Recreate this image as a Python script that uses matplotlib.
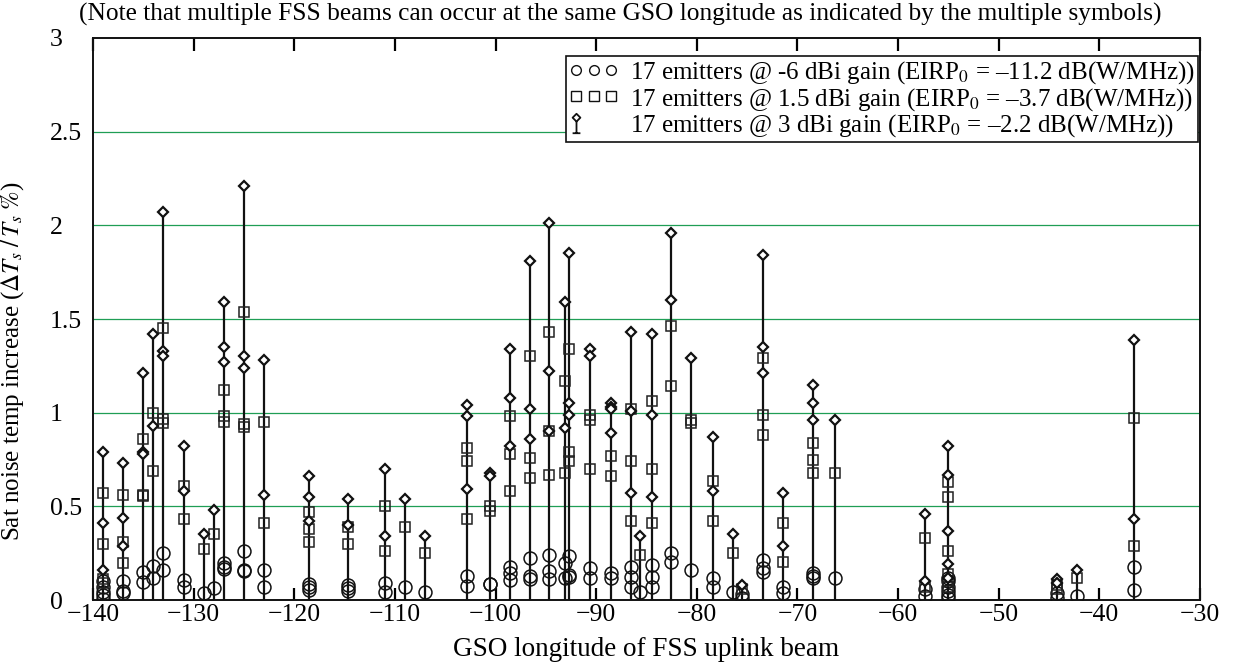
import matplotlib
matplotlib.use('Agg')
import matplotlib.pyplot as plt
from matplotlib.lines import Line2D
from matplotlib.path import Path
from matplotlib.legend_handler import HandlerLine2D
from matplotlib.ticker import FuncFormatter

plt.rcParams['font.family'] = ['Liberation Serif', 'DejaVu Serif']
plt.rcParams['mathtext.fontset'] = 'stix'

# GSO longitudes of the stems (deg)
lons = [-139, -137, -135, -134, -133, -131, -129, -128, -127, -125, -123,
        -118.5, -114.7, -111, -109, -107, -102.8, -100.6, -98.6, -96.6,
        -94.7, -93.1, -92.7, -90.6, -88.5, -86.5, -85.6, -84.5, -82.6,
        -80.6, -78.4, -76.4, -75.5, -73.4, -71.4, -68.5, -66.3, -57.3,
        -55, -44.2, -42.2, -36.6]

# 3 dBi gain (diamonds)
dia_vals = [[0.79, 0.41, 0.16], [0.73, 0.44, 0.29], [1.21, 0.79, 0.78],
            [1.42, 0.93], [2.07, 1.33, 1.30], [0.82, 0.58], [0.35], [0.48],
            [1.59, 1.35, 1.27], [2.21, 1.30, 1.24], [1.28, 0.56],
            [0.66, 0.55, 0.42], [0.54, 0.40], [0.70, 0.34], [0.54], [0.34],
            [1.04, 0.98, 0.59], [0.68, 0.66], [1.34, 1.08, 0.82],
            [1.81, 1.02, 0.86], [2.01, 1.22, 0.90], [1.59, 0.92],
            [1.85, 1.05, 0.99], [1.34, 1.30], [1.05, 1.03, 1.02, 0.89],
            [1.43, 1.01, 0.57], [0.34], [1.42, 0.99, 0.55], [1.96, 1.60],
            [1.29], [0.87, 0.58], [0.35], [0.08], [1.84, 1.35, 1.21],
            [0.57, 0.29], [1.15, 1.05, 0.96], [0.96], [0.46, 0.10],
            [0.82, 0.67, 0.37, 0.19, 0.12], [0.11, 0.09], [0.16], [1.39, 0.43]]

# 1.5 dBi gain (squares)
sq_vals = [[0.57, 0.30, 0.11, 0.09], [0.56, 0.31, 0.20], [0.86, 0.56, 0.555],
           [1.00, 0.69], [1.45, 0.965, 0.945], [0.61, 0.43], [0.27], [0.35],
           [1.12, 0.98, 0.95], [1.54, 0.94, 0.925], [0.95, 0.41],
           [0.47, 0.38, 0.31], [0.39, 0.30], [0.50, 0.26], [0.39], [0.25],
           [0.81, 0.74, 0.43], [0.50, 0.475], [0.98, 0.78, 0.58],
           [1.30, 0.76, 0.65], [1.43, 0.90, 0.67], [1.17, 0.68],
           [1.34, 0.79, 0.74], [0.99, 0.96, 0.70], [0.77, 0.66],
           [1.02, 0.74, 0.42], [0.24], [1.06, 0.70, 0.41], [1.46, 1.14],
           [0.96, 0.945], [0.635, 0.42], [0.25], [0.06], [1.29, 0.99, 0.88],
           [0.41, 0.205], [0.84, 0.75, 0.68], [0.68], [0.33, 0.07],
           [0.63, 0.55, 0.26, 0.14, 0.10, 0.07], [0.08, 0.06], [0.12],
           [0.97, 0.29]]

# -6 dBi gain (circles)
circ_vals = [[0.10, 0.07, 0.045, 0.025, 0.005], [0.10, 0.05, 0.035],
             [0.15, 0.095], [0.18, 0.12], [0.25, 0.16], [0.105, 0.07],
             [0.036], [0.062], [0.20, 0.175, 0.165], [0.26, 0.16, 0.155],
             [0.16, 0.07], [0.084, 0.068, 0.053], [0.08, 0.062, 0.05],
             [0.093, 0.044], [0.071], [0.041], [0.128, 0.076], [0.088, 0.085],
             [0.175, 0.142, 0.107], [0.226, 0.128, 0.11], [0.24, 0.157, 0.11],
             [0.20, 0.116], [0.235, 0.133, 0.124], [0.169, 0.116],
             [0.142, 0.116], [0.178, 0.124, 0.071], [0.044],
             [0.187, 0.121, 0.071], [0.253, 0.205], [0.16], [0.116, 0.071],
             [0.044], [0.03, 0.01], [0.214, 0.173, 0.151], [0.071, 0.036],
             [0.142, 0.128, 0.116], [0.119], [0.06, 0.02],
             [0.12, 0.10, 0.07, 0.05, 0.025, 0.01], [0.035, 0.01], [0.021],
             [0.178, 0.053]]

labels = ['17 emitters @ -6 dBi gain (EIRP$_0$ = \u201311.2 dB(W/MHz))',
          '17 emitters @ 1.5 dBi gain (EIRP$_0$ = \u20133.7 dB(W/MHz))',
          '17 emitters @ 3 dBi gain (EIRP$_0$ = \u20132.2 dB(W/MHz))']


def flatten(vals):
    xs, ys = [], []
    for lon, vs in zip(lons, vals):
        for v in vs:
            xs.append(lon)
            ys.append(v)
    return xs, ys


class FirstPointOnly(HandlerLine2D):
    # legend handler that draws only the left-most marker
    def create_artists(self, *args, **kwargs):
        arts = super().create_artists(*args, **kwargs)
        for a in arts:
            a.set_markevery([0])
        return arts


fig = plt.figure(figsize=(12.34, 6.65), dpi=100)
ax = fig.add_axes([0.0754, 0.0977, 0.8970, 0.8452])

grid_col = '#1f9e55'
for g in [0.5, 1, 1.5, 2, 2.5]:
    ax.axhline(g, color=grid_col, lw=0.9, zorder=1)

# stems up to the highest value at each longitude
tops = [max(d + s + c) for d, s, c in zip(dia_vals, sq_vals, circ_vals)]
ax.vlines(lons, 0, tops, color='#111111', lw=1.6, zorder=2)

cx, cy = flatten(circ_vals)
sx, sy = flatten(sq_vals)
dx, dy = flatten(dia_vals)
ax.plot(cx, cy, ls='none', marker='o', ms=9.3, mfc='none', mec='#111111',
        mew=1.1, zorder=3)
ax.plot(sx, sy, ls='none', marker='s', ms=7.8, mfc='none', mec='#222222',
        mew=1.1, zorder=3)
ax.plot(dx, dy, ls='none', marker='D', ms=5, mfc='white', mec='#111111',
        mew=1.6, zorder=4)

ax.set_xlim(-140, -30)
ax.set_ylim(0, 3)
ax.set_xticks(range(-140, -29, 10))
ax.set_yticks([0, 0.5, 1, 1.5, 2, 2.5, 3])
ax.yaxis.set_major_formatter(FuncFormatter(lambda v, p: '%g' % v))
ax.tick_params(axis='x', direction='in', length=9, width=1.6, top=True,
               labelsize=18.5, pad=3)
ax.tick_params(axis='y', length=0, labelsize=18.5, pad=31)
for lab in ax.get_yticklabels():
    lab.set_horizontalalignment('left')
for sp in ax.spines.values():
    sp.set_linewidth(1.4)
    sp.set_color('#111111')

ax.set_xlabel('GSO longitude of FSS uplink beam', fontsize=19.5, labelpad=8)
ax.set_ylabel(r'Sat noise temp increase ($\Delta T_{s}\;/\,T_{s}\;\%$)',
              fontsize=18)
ax.yaxis.set_label_coords(-0.061, 0.425)
fig.text(0.503, 0.979, '(Note that multiple FSS beams can occur at the same GSO '
         'longitude as indicated by the multiple symbols)', ha='center',
         va='center', fontsize=18.3)

# stem-with-diamond symbol for the third legend entry
stem_path = Path([(0, 1.0), (0.4, 0.6), (0, 0.2), (-0.4, 0.6), (0, 1.0),
                  (0, 0.2), (0, -1.0), (-0.4, -1.0), (0.4, -1.0)],
                 [Path.MOVETO, Path.LINETO, Path.LINETO, Path.LINETO,
                  Path.CLOSEPOLY, Path.MOVETO, Path.LINETO, Path.MOVETO,
                  Path.LINETO])

h1 = Line2D([], [], ls='none', marker='o', ms=7, mfc='none', mec='#111111', mew=1)
h2 = Line2D([], [], ls='none', marker='s', ms=6.5, mfc='none', mec='#111111', mew=1)
h3 = Line2D([], [], ls='none', marker=stem_path, ms=14, mfc='none',
            mec='#111111', mew=1.3)
leg = ax.legend([h1, h2, h3], labels, loc='upper right',
                bbox_to_anchor=(0.998, 0.968), numpoints=3, fontsize=18,
                frameon=True, fancybox=False, framealpha=1, borderpad=0.12,
                labelspacing=0.0, handlelength=2.0, handletextpad=0.45,
                borderaxespad=0, handler_map={h3: FirstPointOnly()})
leg.get_frame().set_edgecolor('#111111')
leg.get_frame().set_linewidth(1.2)

fig.savefig('out.png', dpi=100)
